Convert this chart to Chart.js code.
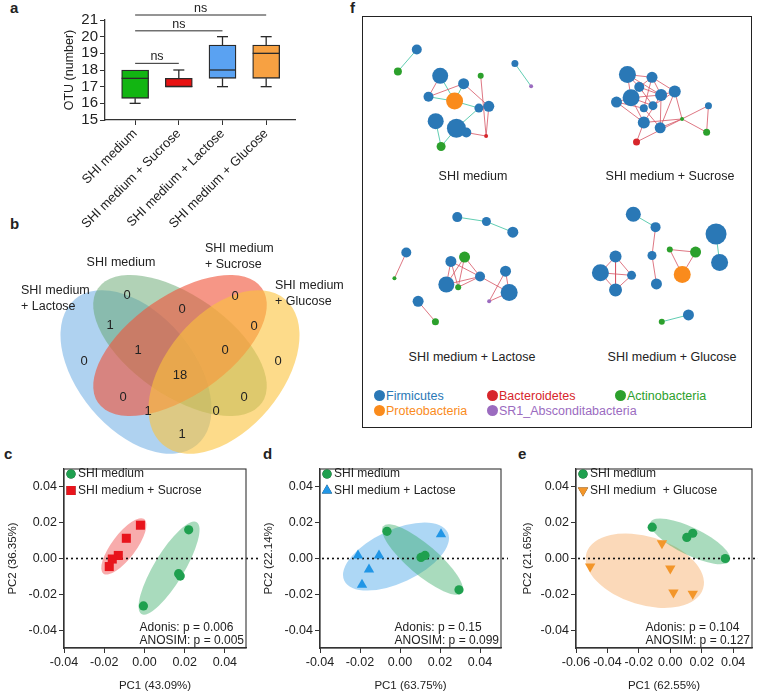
<!DOCTYPE html>
<html>
<head>
<meta charset="utf-8">
<script src="https://cdn.jsdelivr.net/npm/chart.js@4.4.1/dist/chart.umd.min.js"></script>
<style>
  body { margin: 0; width: 758px; height: 697px; position: relative; background: #fff; overflow: hidden;
         font-family: "Liberation Sans", Arial, sans-serif; color: #222; }
  canvas, .abs { position: absolute; }
  .panel { position: absolute; font-weight: bold; font-size: 15px; line-height: 15px; }
  .netTitle { position: absolute; width: 190px; text-align: center; font-size: 12.5px; line-height: 14px; }
  .legItem { position: absolute; font-size: 12.5px; line-height: 14px; white-space: nowrap; }
  .legItem i { position: absolute; left: -12px; top: 1px; width: 11px; height: 11px; border-radius: 50%; }
  #netBox { position: absolute; left: 362px; top: 16px; width: 390px; height: 412px; box-sizing: border-box; border: 1.5px solid #222; }
</style>
</head>
<body>
<div class="panel" style="left:10px;top:0px">a</div>
<div class="panel" style="left:10px;top:216px">b</div>
<div class="panel" style="left:4px;top:446px">c</div>
<div class="panel" style="left:263px;top:446px">d</div>
<div class="panel" style="left:518px;top:446px">e</div>
<div class="panel" style="left:350px;top:0px">f</div>

<canvas id="otuChart" width="300" height="232" style="left:0;top:0"></canvas>
<canvas id="vennChart" width="362" height="232" style="left:0;top:228px"></canvas>
<div id="netBox"></div>
<canvas id="net1" width="190" height="150" style="left:365px;top:20px"></canvas>
<canvas id="net2" width="190" height="150" style="left:557px;top:20px"></canvas>
<canvas id="net3" width="190" height="150" style="left:365px;top:190px"></canvas>
<canvas id="net4" width="190" height="150" style="left:557px;top:190px"></canvas>
<div id="netLabels"></div>
<canvas id="pcoaC" width="258" height="257" style="left:0;top:440px"></canvas>
<canvas id="pcoaD" width="250" height="257" style="left:258px;top:440px"></canvas>
<canvas id="pcoaE" width="250" height="257" style="left:508px;top:440px"></canvas>

<script>
// ---------- a: OTU box plot ----------
const groups = ['SHI medium', 'SHI medium + Sucrose', 'SHI medium + Lactose', 'SHI medium + Glucose'];
const otuMin = [16, 17, 17, 17];
const otuQ1 = [16.3, 17, 17.5, 17.5];
const otuMedian = [17.5, 17, 18, 19];
const otuQ3 = [18, 17.5, 19.5, 19.5];
const otuMax = [18, 18, 20, 20];
const otuTicks = [15, 16, 17, 18, 19, 20, 21];
// pairs compared, with bracket height (OTU units)
const nsTests = [[0, 1, 18.4], [0, 2, 20.35], [0, 3, 21.3]];

// ---------- b: Venn ----------
const vennSets = ['SHI medium + Lactose', 'SHI medium', 'SHI medium + Sucrose', 'SHI medium + Glucose'];
const vennRegions = ['M', 'S', 'MS', 'LM', 'SG', 'LMS', 'MSG', 'L', 'G', 'LMSG', 'LS', 'MG', 'LSG', 'LMG', 'LG'];
const vennCounts = [0, 0, 0, 1, 0, 1, 0, 0, 0, 18, 0, 0, 1, 0, 1];

// ---------- f: co-occurrence networks ----------
const phyla = ['Firmicutes', 'Bacteroidetes', 'Actinobacteria', 'Proteobacteria', 'SR1_Absconditabacteria'];
const netTitles = ['SHI medium', 'SHI medium + Sucrose', 'SHI medium + Lactose', 'SHI medium + Glucose'];
// node: [x, y, size, phylum]  (F=0, B=1, A=2, P=3, SR1=4)
const shiNodes = [[47,23,5,0],[26,48,4,2],[73,53,8,0],[99,62,5.5,0],[118,53,3,2],[60,77,5,0],[89,82,8.5,3],
  [116,90,4.5,0],[127,88,5.5,0],[68,105,8,0],[91,113,9.5,0],[102,118,5,0],[124,122,2,1],[74,134,4.5,2],[156,39,3.5,0],[174,65,2,4]];
const shiEdges = [[0,1,-1],[2,6,-1],[5,6,-1],[3,6,-1],[6,7,-1],[7,10,-1],[9,13,-1],[10,13,-1],[14,15,-1],
  [2,5,1],[5,3,1],[3,8,1],[4,12,1],[8,12,1],[11,12,1]];
const sucNodes = [[68,52,8.5,0],[95,55,5.5,0],[81,66,5,0],[120,71,6,0],[105,75,6,0],[72,78,8.5,0],[56,83,5.5,0],
  [86,90,4,0],[96,87,4.5,0],[157,87,3.5,0],[128,102,2,2],[86,106,6,0],[104,112,5.5,0],[155,117,3.5,2],[78,128,3.5,1]];
const sucEdges = [[0,1,1],[0,2,1],[0,4,1],[0,5,1],[1,3,1],[1,4,1],[1,7,1],[1,2,1],[2,5,1],[2,8,1],[2,4,1],[3,4,1],
  [3,10,1],[4,5,1],[4,11,1],[4,12,1],[5,6,1],[5,8,1],[5,11,1],[6,11,1],[6,7,1],[7,12,1],[8,3,1],[11,10,1],
  [12,10,1],[11,14,1],[14,10,1],[10,9,1],[10,13,1],[9,13,1],[3,12,1]];
const lacNodes = [[92,21,5,0],[124,26,4.5,0],[153,38,5.5,0],[36,61,5,0],[23,90,2,2],[85,71,5.5,0],[100,66,5.5,2],
  [117,88,5,0],[80,97,8,0],[93,100,3,2],[145,82,5.5,0],[149,106,8.5,0],[127,116,2,4],[49,116,5.5,0],[68,139,3.5,2]];
const lacEdges = [[0,1,-1],[1,2,-1],[3,4,1],[5,8,1],[5,9,1],[5,7,1],[6,9,1],[6,7,1],[8,7,1],[9,7,1],[7,11,1],
  [10,12,1],[10,11,1],[11,12,1],[13,14,1],[6,8,1]];
const gluNodes = [[74,16,7.5,0],[99,31,5,0],[95,64,4.5,0],[100,97,5.5,0],[167,39,10.5,0],[171,72,8.5,0],[115,57,3,2],
  [144,60,5.5,2],[129,86,8.5,3],[54,65,6,0],[37,84,8.5,0],[72,87,4.5,0],[54,104,6.5,0],[136,133,5.5,0],[106,141,3,2]];
const gluEdges = [[0,1,-1],[4,5,-1],[13,14,-1],[1,2,1],[2,3,1],[6,7,1],[6,8,1],[7,8,1],[9,10,1],[9,11,1],[9,12,1],
  [10,11,1],[10,12,1],[11,12,1]];

// ---------- c, d, e: PCoA ----------
const pcoaYTicks = [-0.04, -0.02, 0, 0.02, 0.04];
const pcoaXTicksCD = [-0.04, -0.02, 0, 0.02, 0.04];
const pcoaXTicksE = [-0.06, -0.04, -0.02, 0, 0.02, 0.04];
const shiC = [[0.022, 0.016], [0.017, -0.0085], [0.0178, -0.0098], [-0.0005, -0.0265]];
const sucC = [[-0.002, 0.0186], [-0.009, 0.0113], [-0.013, 0.0017], [-0.016, -0.0003], [-0.0175, -0.0045]];
const shiD = [[-0.0065, 0.0152], [0.0105, 0.0006], [0.0125, 0.0017], [0.0295, -0.0175]];
const lacD = [[-0.021, 0.0017], [-0.0105, 0.0017], [-0.0155, -0.0062], [-0.019, -0.0146], [0.0205, 0.0135]];
const shiE = [[-0.0115, 0.0175], [0.0105, 0.0118], [0.0143, 0.0141], [0.035, 0.0]];
const gluE = [[-0.0053, 0.0085], [-0.051, -0.0045], [0.0, -0.0056], [0.002, -0.019], [0.0143, -0.0197]];
// ellipse: [centre x, centre y, end of major axis x, y, minor/major]
const shiEllC = [0.01225, -0.00535, 0.026, 0.0203, 0.28];
const sucEllC = [-0.01025, 0.00676, -0.0001, 0.022, 0.354];
const shiEllD = [0.01125, -0.00056, 0.0309, -0.0192, 0.29];
const lacEllD = [-0.002, 0.0011, 0.0239, 0.0145, 0.465];
const shiEllE = [0.0127, 0.0096, 0.0379, -0.0012, 0.31];
const gluEllE = [-0.0162, -0.0068, 0.0209, -0.0168, 0.56];

const FONT = '"Liberation Sans", Arial, sans-serif';
Chart.defaults.font.family = FONT;
Chart.defaults.color = '#222';

const boxColors = ['#12b512', '#e81212', '#5aa2f2', '#f7a142'];
const phylumColors = ['#2a78b6', '#d7262b', '#2ca02c', '#fa8b1c', '#9b6bbf'];

// ===== a =====
const boxWhiskers = {
  id: 'boxWhiskers',
  afterDatasetsDraw(chart) {
    const { ctx, scales: { x, y } } = chart;
    const seg = (x1, y1, x2, y2) => { ctx.beginPath(); ctx.moveTo(x1, y1); ctx.lineTo(x2, y2); ctx.stroke(); };
    ctx.save();
    ctx.strokeStyle = '#2a2a2a';
    ctx.lineWidth = 1.3;
    groups.forEach((g, i) => {
      const cx = x.getPixelForValue(i);
      if (otuMax[i] > otuQ3[i]) {
        const ym = y.getPixelForValue(otuMax[i]);
        seg(cx, y.getPixelForValue(otuQ3[i]), cx, ym);
        seg(cx - 5.5, ym, cx + 5.5, ym);
      }
      if (otuMin[i] < otuQ1[i]) {
        const ym = y.getPixelForValue(otuMin[i]);
        seg(cx, y.getPixelForValue(otuQ1[i]), cx, ym);
        seg(cx - 5.5, ym, cx + 5.5, ym);
      }
      const md = y.getPixelForValue(otuMedian[i]);
      seg(cx - 13.5, md, cx + 13.5, md);
    });
    ctx.lineWidth = 1;
    ctx.fillStyle = '#222';
    ctx.font = '12.5px ' + FONT;
    ctx.textAlign = 'center';
    nsTests.forEach(([a, b, lvl]) => {
      const yy = y.getPixelForValue(lvl), xa = x.getPixelForValue(a), xb = x.getPixelForValue(b);
      seg(xa, yy, xb, yy);
      ctx.fillText('ns', (xa + xb) / 2, yy - 3);
    });
    ctx.restore();
  }
};

new Chart(document.getElementById('otuChart'), {
  type: 'bar',
  data: {
    datasets: [{
      data: groups.map((g, i) => ({ x: i, y: [otuQ1[i], otuQ3[i]] })),
      backgroundColor: boxColors,
      borderColor: '#2a2a2a',
      borderWidth: 1.3,
      borderSkipped: false,
      barThickness: 27
    }]
  },
  options: {
    responsive: false,
    animation: false,
    layout: { padding: { top: 20, right: 5, left: 58 } },
    plugins: { legend: { display: false }, tooltip: { enabled: false } },
    scales: {
      x: {
        type: 'linear', min: -0.69, max: 3.66, offset: false,
        afterFit: s => { s.height = 112; },
        afterBuildTicks: s => { s.ticks = groups.map((g, i) => ({ value: i })); },
        ticks: { callback: v => groups[v], minRotation: 45, maxRotation: 45, autoSkip: false, font: { size: 13 }, padding: 1 },
        grid: { drawOnChartArea: false, offset: false, tickLength: 5, color: '#333' },
        border: { color: '#333', width: 1.3 }
      },
      y: {
        min: 15, max: 21,
        afterFit: s => { s.width = 47; },
        afterBuildTicks: s => { s.ticks = otuTicks.map(v => ({ value: v })); },
        ticks: { font: { size: 15 }, padding: 2, autoSkip: false },
        title: { display: true, text: 'OTU (number)', font: { size: 12.5 }, padding: { top: 4, bottom: 2 } },
        grid: { drawOnChartArea: false, tickLength: 5, color: '#333' },
        border: { color: '#333', width: 1.3 }
      }
    }
  },
  plugins: [boxWhiskers]
});

// ===== b =====
// ellipse layout: [cx, cy, semi-major, semi-minor, rotation deg], same order as vennSets
const vennShapes = [[136, 372, 95, 58, 50], [180, 345.5, 100, 50, 35], [180, 345.5, 100, 50, -35], [224, 372, 95, 58, -50]];
const vennFills = ['rgba(95,165,225,0.5)', 'rgba(100,165,110,0.5)', 'rgba(240,85,60,0.62)', 'rgba(252,195,60,0.6)'];
const vennLabelAt = [[127, 295], [235, 296], [182, 309], [110, 325], [254, 326], [138, 350], [225, 350], [84, 361],
  [278, 361], [180, 375], [123, 397], [244, 397], [148, 411], [216, 411], [182, 434]];
const vennSetAt = [[21, 291, 'left'], [121, 263, 'center'], [205, 249, 'left'], [275, 286, 'left']];

const vennPlugin = {
  id: 'venn',
  beforeDatasetsDraw(chart) {
    const { ctx, scales: { x, y } } = chart;
    const k = (x.getPixelForValue(100) - x.getPixelForValue(0)) / 100;
    ctx.save();
    vennShapes.forEach((e, i) => {
      ctx.beginPath();
      ctx.ellipse(x.getPixelForValue(e[0]), y.getPixelForValue(e[1]), e[2] * k, e[3] * k, e[4] * Math.PI / 180, 0, 2 * Math.PI);
      ctx.fillStyle = vennFills[i];
      ctx.fill();
    });
    ctx.restore();
  },
  afterDatasetsDraw(chart) {
    const { ctx, scales: { x, y } } = chart;
    const pts = chart.getDatasetMeta(0).data;
    ctx.save();
    ctx.fillStyle = '#222';
    ctx.font = '13px ' + FONT;
    ctx.textAlign = 'center';
    ctx.textBaseline = 'middle';
    pts.forEach((p, i) => ctx.fillText(String(vennCounts[i]), p.x, p.y));
    ctx.font = '12.5px ' + FONT;
    vennSets.forEach((name, i) => {
      const [lx, ly, al] = vennSetAt[i];
      ctx.textAlign = al;
      const parts = name.split(' + ');
      ctx.fillText(parts[0], x.getPixelForValue(lx), y.getPixelForValue(ly));
      if (parts[1]) ctx.fillText('+ ' + parts[1], x.getPixelForValue(lx), y.getPixelForValue(ly) + 15.5);
    });
    ctx.restore();
  }
};

new Chart(document.getElementById('vennChart'), {
  type: 'scatter',
  data: { datasets: [{ data: vennLabelAt.map(p => ({ x: p[0], y: p[1] })), pointRadius: 0 }] },
  options: {
    responsive: false, animation: false,
    layout: { padding: 0 },
    plugins: { legend: { display: false }, tooltip: { enabled: false } },
    scales: {
      x: { type: 'linear', min: 0, max: 362, display: false },
      y: { type: 'linear', min: 228, max: 460, reverse: true, display: false }
    }
  },
  plugins: [vennPlugin]
});

// ===== f =====
function edgePoints(nodes, edges, sign) {
  const pts = [];
  edges.filter(e => e[2] === sign).forEach(e => {
    const a = nodes[e[0]], b = nodes[e[1]];
    pts.push({ x: a[0], y: a[1] }, { x: b[0], y: b[1] }, { x: null, y: null });
  });
  return pts;
}

function networkChart(id, nodes, edges) {
  const datasets = [
    { type: 'line', data: edgePoints(nodes, edges, 1), borderColor: 'rgba(214,85,100,0.8)', borderWidth: 1,
      pointRadius: 0, spanGaps: false, order: 2, clip: false },
    { type: 'line', data: edgePoints(nodes, edges, -1), borderColor: 'rgba(80,200,170,0.9)', borderWidth: 1,
      pointRadius: 0, spanGaps: false, order: 2, clip: false }
  ];
  phyla.forEach((ph, k) => {
    datasets.push({
      type: 'bubble', label: ph, order: 0, clip: false,
      data: nodes.filter(n => n[3] === k).map(n => ({ x: n[0], y: n[1], r: n[2] })),
      backgroundColor: phylumColors[k], borderWidth: 0
    });
  });
  new Chart(document.getElementById(id), {
    type: 'bubble',
    data: { datasets },
    options: {
      responsive: false, animation: false,
      layout: { padding: 0 },
      plugins: { legend: { display: false }, tooltip: { enabled: false } },
      scales: {
        x: { type: 'linear', min: 0, max: 190, display: false },
        y: { type: 'linear', min: 0, max: 150, reverse: true, display: false }
      }
    }
  });
}
networkChart('net1', shiNodes, shiEdges);
networkChart('net2', sucNodes, sucEdges);
networkChart('net3', lacNodes, lacEdges);
networkChart('net4', gluNodes, gluEdges);

const labelHost = document.getElementById('netLabels');
const titleAt = [[378, 169], [575, 169], [377, 350], [577, 350]];
netTitles.forEach((t, i) => {
  const d = document.createElement('div');
  d.className = 'netTitle';
  d.style.left = titleAt[i][0] + 'px';
  d.style.top = titleAt[i][1] + 'px';
  d.textContent = t;
  labelHost.appendChild(d);
});
const legendAt = [[386, 389], [499, 389], [627, 389], [386, 404], [499, 404]];
phyla.forEach((ph, k) => {
  const d = document.createElement('div');
  d.className = 'legItem';
  d.style.left = legendAt[k][0] + 'px';
  d.style.top = legendAt[k][1] + 'px';
  d.style.color = phylumColors[k];
  d.innerHTML = '<i style="background:' + phylumColors[k] + '"></i>';
  d.appendChild(document.createTextNode(ph));
  labelHost.appendChild(d);
});

// ===== c, d, e =====
const pcoaDecor = {
  id: 'pcoaDecor',
  beforeDatasetsDraw(chart, args, opts) {
    const { ctx, chartArea: ca, scales: { x, y } } = chart;
    ctx.save();
    opts.ellipses.forEach(([e, fill]) => {
      const cx = x.getPixelForValue(e[0]), cy = y.getPixelForValue(e[1]);
      const ex = x.getPixelForValue(e[2]), ey = y.getPixelForValue(e[3]);
      const a = Math.hypot(ex - cx, ey - cy);
      ctx.beginPath();
      ctx.ellipse(cx, cy, a, a * e[4], Math.atan2(ey - cy, ex - cx), 0, 2 * Math.PI);
      ctx.fillStyle = fill;
      ctx.fill();
    });
    const y0 = y.getPixelForValue(0);
    ctx.setLineDash([0, 5]);
    ctx.lineCap = 'round';
    ctx.lineWidth = 2.2;
    ctx.strokeStyle = '#111';
    ctx.beginPath();
    ctx.moveTo(ca.left + 3, y0);
    ctx.lineTo(ca.right + 12, y0);
    ctx.stroke();
    ctx.restore();
  },
  afterDraw(chart, args, opts) {
    const { ctx, chartArea: ca } = chart;
    ctx.save();
    ctx.strokeStyle = '#333';
    ctx.lineWidth = 1.1;
    ctx.strokeRect(ca.left, ca.top, ca.right - ca.left, ca.bottom - ca.top);
    ctx.font = '12px ' + FONT;
    ctx.fillStyle = '#222';
    ctx.textBaseline = 'middle';
    chart.data.datasets.forEach((ds, i) => {
      const yy = ca.top + 5 + i * 16.5;
      Chart.helpers.drawPoint(ctx, { pointStyle: ds.pointStyle, rotation: ds.rotation || 0, radius: ds.pointRadius, borderWidth: 0 }, ca.left + 7, yy);
      ctx.fillStyle = ds.backgroundColor;
      ctx.fill();
      ctx.fillStyle = '#222';
      ctx.fillText(ds.label, ca.left + 14, yy);
    });
    const w = Math.max(...opts.stats.map(s => ctx.measureText(s).width));
    opts.stats.forEach((s, i) => ctx.fillText(s, ca.right - w - 2, ca.bottom - 20 + i * 13));
    ctx.restore();
  }
};

function pcoaChart(id, cfg) {
  const axisFont = { size: 12.5 };
  new Chart(document.getElementById(id), {
    type: 'scatter',
    data: {
      datasets: [
        { label: 'SHI medium', data: cfg.ctrl.map(p => ({ x: p[0], y: p[1] })), pointStyle: 'circle',
          pointRadius: 4.6, backgroundColor: '#1fa04f', borderWidth: 0 },
        { label: cfg.trtName, data: cfg.trt.map(p => ({ x: p[0], y: p[1] })), pointStyle: cfg.style,
          rotation: cfg.rot, pointRadius: cfg.r, backgroundColor: cfg.color, borderWidth: 0 }
      ]
    },
    options: {
      responsive: false, animation: false,
      layout: { padding: { top: 29, right: cfg.padRight, left: cfg.padLeft, bottom: 0 } },
      plugins: {
        legend: { display: false }, tooltip: { enabled: false },
        pcoaDecor: { ellipses: cfg.ellipses, stats: cfg.stats }
      },
      scales: {
        x: {
          type: 'linear', min: cfg.xMin, max: cfg.xMax,
          afterFit: s => { s.height = 49; },
          afterBuildTicks: s => { s.ticks = cfg.xTicks.map(v => ({ value: v })); },
          ticks: { callback: v => v.toFixed(2), font: axisFont, padding: 2, maxRotation: 0, autoSkip: false },
          title: { display: true, text: cfg.xTitle, font: { size: 11.5 }, padding: { top: 2, bottom: 4 } },
          grid: { drawOnChartArea: false, tickLength: 5, color: '#333' },
          border: { color: '#333', width: 1.2 }
        },
        y: {
          type: 'linear', min: -0.05, max: 0.05,
          afterFit: s => { s.width = cfg.yWidth; },
          afterBuildTicks: s => { s.ticks = pcoaYTicks.map(v => ({ value: v })); },
          ticks: { callback: v => v.toFixed(2), font: axisFont, padding: 2, autoSkip: false },
          title: { display: true, text: cfg.yTitle, font: { size: 11.5 }, padding: { top: 4, bottom: 2 } },
          grid: { drawOnChartArea: false, tickLength: 5, color: '#333' },
          border: { color: '#333', width: 1.2 }
        }
      }
    },
    plugins: [pcoaDecor]
  });
}

pcoaChart('pcoaC', {
  ctrl: shiC, trt: sucC, trtName: 'SHI medium + Sucrose', style: 'rect', rot: 0, r: 6.4, color: '#e8141c',
  ellipses: [[sucEllC, 'rgba(240,70,70,0.45)'], [shiEllC, 'rgba(40,165,90,0.4)']],
  stats: ['Adonis: p = 0.006', 'ANOSIM: p = 0.005'],
  xMin: -0.04, xMax: 0.0505, xTicks: pcoaXTicksCD, xTitle: 'PC1 (43.09%)', yTitle: 'PC2 (36.35%)',
  padLeft: 2, yWidth: 62, padRight: 12
});
pcoaChart('pcoaD', {
  ctrl: shiD, trt: lacD, trtName: 'SHI medium + Lactose', style: 'triangle', rot: 0, r: 6, color: '#2196e6',
  ellipses: [[lacEllD, 'rgba(40,150,230,0.38)'], [shiEllD, 'rgba(40,165,90,0.4)']],
  stats: ['Adonis: p = 0.15', 'ANOSIM: p = 0.099'],
  xMin: -0.04, xMax: 0.0505, xTicks: pcoaXTicksCD, xTitle: 'PC1 (63.75%)', yTitle: 'PC2 (22.14%)',
  padLeft: 0, yWidth: 62, padRight: 7
});
pcoaChart('pcoaE', {
  ctrl: shiE, trt: gluE, trtName: 'SHI medium  + Glucose', style: 'triangle', rot: 180, r: 6, color: '#f3962a',
  ellipses: [[gluEllE, 'rgba(245,160,80,0.4)'], [shiEllE, 'rgba(40,165,90,0.4)']],
  stats: ['Adonis: p = 0.104', 'ANOSIM: p = 0.127'],
  xMin: -0.06, xMax: 0.052, xTicks: pcoaXTicksE, xTitle: 'PC1 (62.55%)', yTitle: 'PC2 (21.65%)',
  padLeft: 9, yWidth: 59, padRight: 1
});
</script>
</body>
</html>
